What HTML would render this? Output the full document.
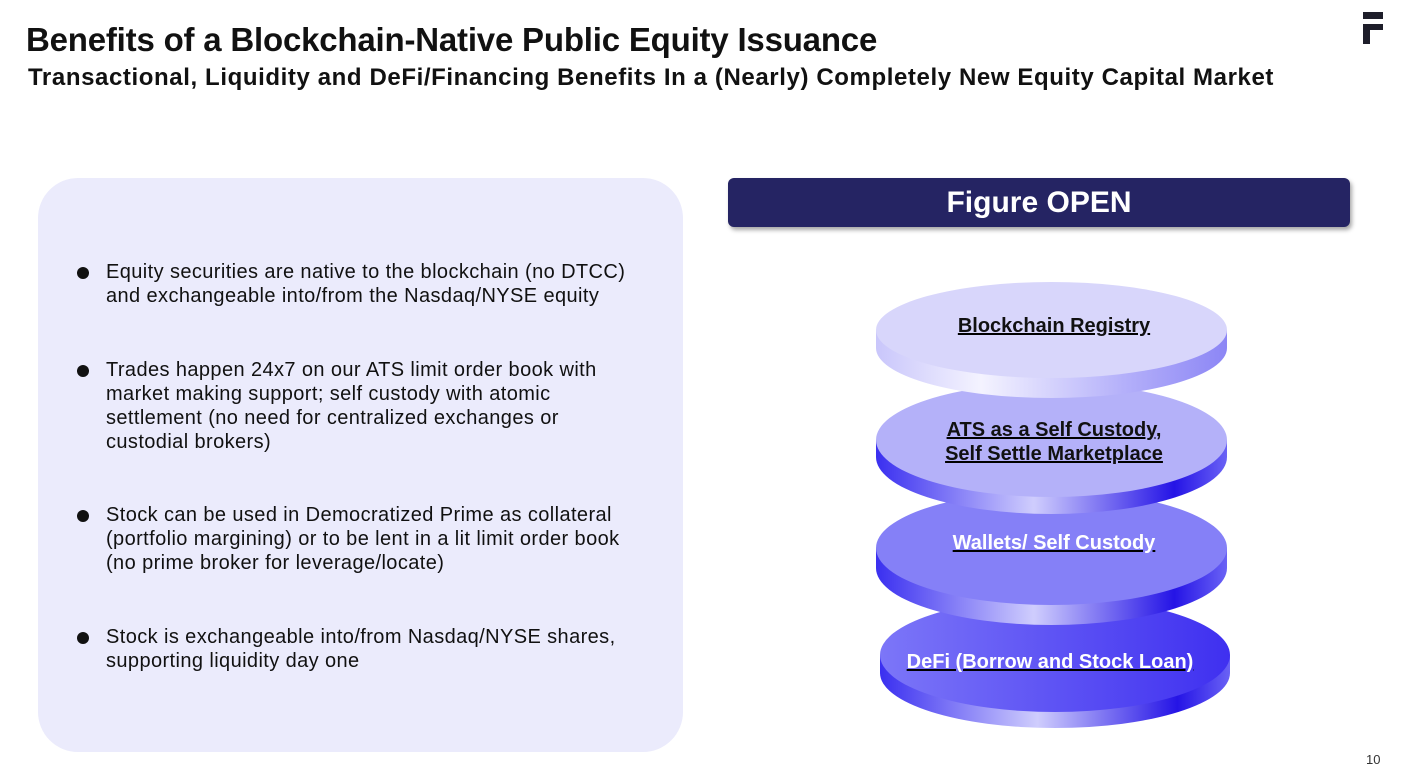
<!DOCTYPE html>
<html><head><meta charset="utf-8"><style>
body{margin:0;width:1406px;height:782px;background:#fff;position:relative;overflow:hidden;font-family:"Liberation Sans",sans-serif;color:#111}
.t1{position:absolute;left:26px;top:21px;font-size:33px;font-weight:bold;letter-spacing:-0.2px}
.t2{position:absolute;left:28px;top:64px;font-size:24px;font-weight:bold;letter-spacing:0.6px}
.panel{position:absolute;left:38px;top:178px;width:645px;height:574px;background:#ebebfc;border-radius:40px}
.b{position:absolute;left:106px;font-size:20px;line-height:24px;width:530px;letter-spacing:0.4px}
.b:before{content:"";position:absolute;left:-29px;top:7px;width:12px;height:12px;border-radius:50%;background:#111}
.bar{position:absolute;left:728px;top:178px;width:622px;height:49px;background:#252463;border-radius:6px;box-shadow:2px 3px 4px rgba(0,0,0,.35);color:#fff;font-weight:bold;font-size:30px;text-align:center;line-height:49px}
.pg{position:absolute;left:1366px;top:752px;font-size:13px;color:#333}
</style></head><body>
<div class="t1">Benefits of a Blockchain-Native Public Equity Issuance</div>
<div class="t2">Transactional, Liquidity and DeFi/Financing Benefits In a (Nearly) Completely New Equity Capital Market</div>
<div style="position:absolute;left:1363px;top:12px;width:20px;height:7px;background:#1e1e2a"></div>
<div style="position:absolute;left:1363px;top:24px;width:20px;height:6px;background:#1e1e2a"></div>
<div style="position:absolute;left:1363px;top:24px;width:7px;height:20px;background:#1e1e2a"></div>
<div class="panel"></div>
<div class="b" style="top:260px">Equity securities are native to the blockchain (no DTCC) and exchangeable into/from the Nasdaq/NYSE equity</div>
<div class="b" style="top:358px">Trades happen 24x7 on our ATS limit order book with market making support; self custody with atomic settlement (no need for centralized exchanges or custodial brokers)</div>
<div class="b" style="top:503px">Stock can be used in Democratized Prime as collateral (portfolio margining) or to be lent in a lit limit order book (no prime broker for leverage/locate)</div>
<div class="b" style="top:625px">Stock is exchangeable into/from Nasdaq/NYSE shares, supporting liquidity day one</div>
<div class="bar">Figure OPEN</div>
<svg style="position:absolute;left:0;top:0" width="1406" height="782">
<defs>
<linearGradient id="s1" x1="0" x2="1"><stop offset="0" stop-color="#c9c6fb"/><stop offset=".3" stop-color="#f4f3ff"/><stop offset=".7" stop-color="#b5b1fa"/><stop offset="1" stop-color="#8c86f5"/></linearGradient>
<linearGradient id="s2" x1="0" x2="1"><stop offset="0" stop-color="#3a2ff0"/><stop offset=".45" stop-color="#cfcdfd"/><stop offset=".85" stop-color="#2514e6"/><stop offset="1" stop-color="#6a62f5"/></linearGradient>
<linearGradient id="f4" x1="0" x2="1"><stop offset="0" stop-color="#7c76f8"/><stop offset="1" stop-color="#3f30f0"/></linearGradient>
</defs>
<g>
<rect x="880" y="655" width="350" height="18" fill="url(#s2)"/><ellipse cx="1055" cy="673" rx="175" ry="55" fill="url(#s2)"/>
<ellipse cx="1055" cy="655" rx="175" ry="57" fill="url(#f4)"/>
</g>
<g>
<rect x="876" y="548" width="351" height="20" fill="url(#s2)"/><ellipse cx="1051.5" cy="568" rx="175.5" ry="57" fill="url(#s2)"/>
<ellipse cx="1051.5" cy="548" rx="175.5" ry="57" fill="#8580f7"/>
</g>
<g>
<rect x="876" y="440" width="351" height="17" fill="url(#s2)"/><ellipse cx="1051.5" cy="457" rx="175.5" ry="57" fill="url(#s2)"/>
<ellipse cx="1051.5" cy="440" rx="175.5" ry="57" fill="#b4b1f9"/>
</g>
<g>
<rect x="876" y="330" width="351" height="18" fill="url(#s1)"/><ellipse cx="1051.5" cy="348" rx="175.5" ry="50" fill="url(#s1)"/>
<ellipse cx="1051.5" cy="330" rx="175.5" ry="48" fill="#d8d6fb"/>
</g>
<g font-family="Liberation Sans, sans-serif" font-weight="bold" font-size="20" text-anchor="middle" text-decoration="underline">
<text x="1054" y="332" fill="#111">Blockchain Registry</text>
<text x="1054" y="436" fill="#111">ATS as a Self Custody,</text>
<text x="1054" y="460" fill="#111">Self Settle Marketplace</text>
<text x="1054" y="549" fill="#fff">Wallets/ Self Custody</text>
<text x="1050" y="668" fill="#fff">DeFi (Borrow and Stock Loan)</text>
</g>
</svg>
<div class="pg">10</div>
</body></html>
